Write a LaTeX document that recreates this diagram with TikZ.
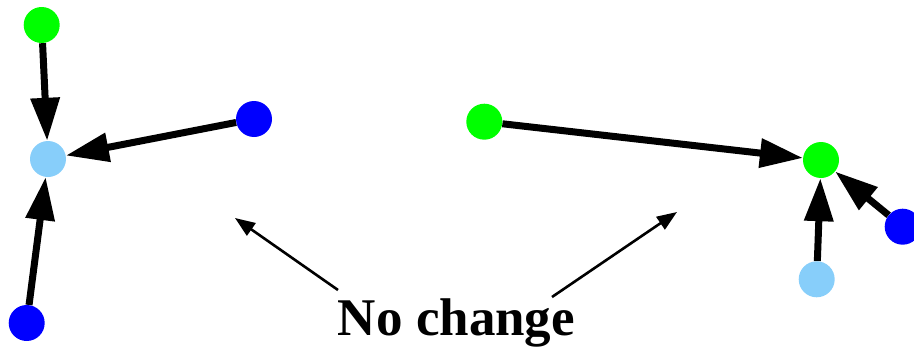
\documentclass[tikz,border=0pt]{standalone}
\usepackage{fontspec}
\setmainfont{Liberation Serif}
\usetikzlibrary{arrows.meta}
\pgfdeclarelayer{edges}
\pgfsetlayers{edges,main}
\definecolor{vgreen}{RGB}{0,255,0}
\definecolor{vblue}{RGB}{0,0,255}
\definecolor{vlight}{RGB}{135,206,250}
\begin{document}
\begin{tikzpicture}[x=1pt,y=-1pt,
  dot/.style={circle,inner sep=0pt,minimum size=36pt,draw=none,fill=#1},
  thick edge/.style={line width=7pt,-{Triangle[length=43pt,width=28pt]}},
  thin arrow/.style={line width=2.6pt,-{Triangle[length=20pt,width=15pt]}}]
\useasboundingbox (0,0) rectangle (914,351);
\clip (0,0) rectangle (914,351);
% left group
\node[dot=vgreen] (g1) at (41.7,25) {};
\node[dot=vlight] (l1) at (48,159) {};
\node[dot=vblue] (b1) at (254,119) {};
\node[dot=vblue] (b2) at (26.7,323) {};
% right group
\node[dot=vgreen] (g2) at (484.3,121.7) {};
\node[dot=vgreen] (g3) at (821,160) {};
\node[dot=vblue] (b3) at (902.7,226.7) {};
\node[dot=vlight] (l2) at (816.7,279.3) {};
\begin{pgfonlayer}{edges}
\draw[thick edge] (g1) -- (l1);
\draw[thick edge] (b1) -- (l1);
\draw[thick edge] (b2) -- (l1);
\draw[thick edge] (g2) -- (g3);
\draw[thick edge] (b3) -- (g3);
\draw[thick edge] (l2) -- (g3);
\end{pgfonlayer}
% label
\node[anchor=base,inner sep=0pt,font=\fontsize{53}{60}\selectfont\bfseries] (txt) at (456.5,335) {No change};
\coordinate (s1) at (338,290);
\coordinate (t1) at (235,218);
\coordinate (s2) at (552,297);
\coordinate (t2) at (677,212);
\draw[thin arrow] (s1) -- (t1);
\draw[thin arrow] (s2) -- (t2);
\end{tikzpicture}
\end{document}
